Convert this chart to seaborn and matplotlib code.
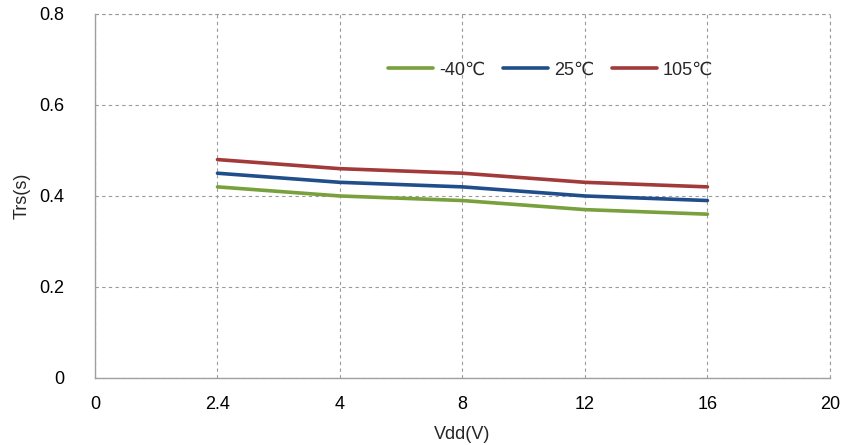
import matplotlib
matplotlib.use("Agg")
import matplotlib.pyplot as plt
import seaborn as sns
import pandas as pd

# Supply voltage categories (evenly spaced on the axis)
vdd_labels = ["0", "2.4", "4", "8", "12", "16", "20"]
vdd_measured = ["2.4", "4", "8", "12", "16"]

# Reset time per temperature
trs_m40 = [0.42, 0.40, 0.39, 0.37, 0.36]
trs_25 = [0.45, 0.43, 0.42, 0.40, 0.39]
trs_105 = [0.48, 0.46, 0.45, 0.43, 0.42]

series_names = ["-40℃", "25℃", "105℃"]
series_colors = ["#78a03c", "#204e8a", "#a23a3a"]

pos = [vdd_labels.index(v) for v in vdd_measured]
df = pd.DataFrame({
    "x": pos * 3,
    "Trs": trs_m40 + trs_25 + trs_105,
    "temp": [series_names[0]] * 5 + [series_names[1]] * 5 + [series_names[2]] * 5,
})

sns.set_theme(style="white")
plt.rcParams["font.family"] = ["Liberation Sans", "DejaVu Sans"]

fig = plt.figure(figsize=(8.46, 4.45), dpi=100)
ax = fig.add_axes([0.1123, 0.1506, 0.8687, 0.818])

sns.lineplot(data=df, x="x", y="Trs", hue="temp", hue_order=series_names,
             palette=series_colors, linewidth=2.6, ax=ax, legend=True)

fs = 13
ax.set_xlim(0, len(vdd_labels) - 1)
ax.set_ylim(0, 0.8)
ax.set_xticks(range(len(vdd_labels)))
ax.set_xticklabels(vdd_labels)
ax.set_yticks([0, 0.2, 0.4, 0.6, 0.8])
ax.set_yticklabels(["0", "0.2", "0.4", "0.6", "0.8"])
ax.tick_params(axis="both", labelsize=fs, colors="black", length=0)
ax.tick_params(axis="x", pad=13)
ax.tick_params(axis="y", pad=22)

dash = (0, (3, 3))
ax.grid(True, linestyle=dash, color="#9a9a9a", linewidth=0.8)
for side in ["top", "right"]:
    ax.spines[side].set_visible(False)
for side in ["left", "bottom"]:
    ax.spines[side].set_color("#a0a0a0")
    ax.spines[side].set_linewidth(1.0)
ax.axhline(0.8, color="#9a9a9a", linestyle=dash, linewidth=0.8, clip_on=False)
ax.axvline(len(vdd_labels) - 1, color="#9a9a9a", linestyle=dash, linewidth=0.8, clip_on=False)

ax.set_xlabel("Vdd(V)", fontsize=fs, labelpad=9)
ax.set_ylabel("Trs(s)", fontsize=fs, labelpad=6)

handles, labels = ax.get_legend_handles_labels()
ax.legend(handles, labels, loc="center", bbox_to_anchor=(0.62, 0.846),
          ncol=3, frameon=False, fontsize=fs, handlelength=2.5,
          columnspacing=1.0, handletextpad=0.3)

fig.savefig("out.png", dpi=100, facecolor="white")
